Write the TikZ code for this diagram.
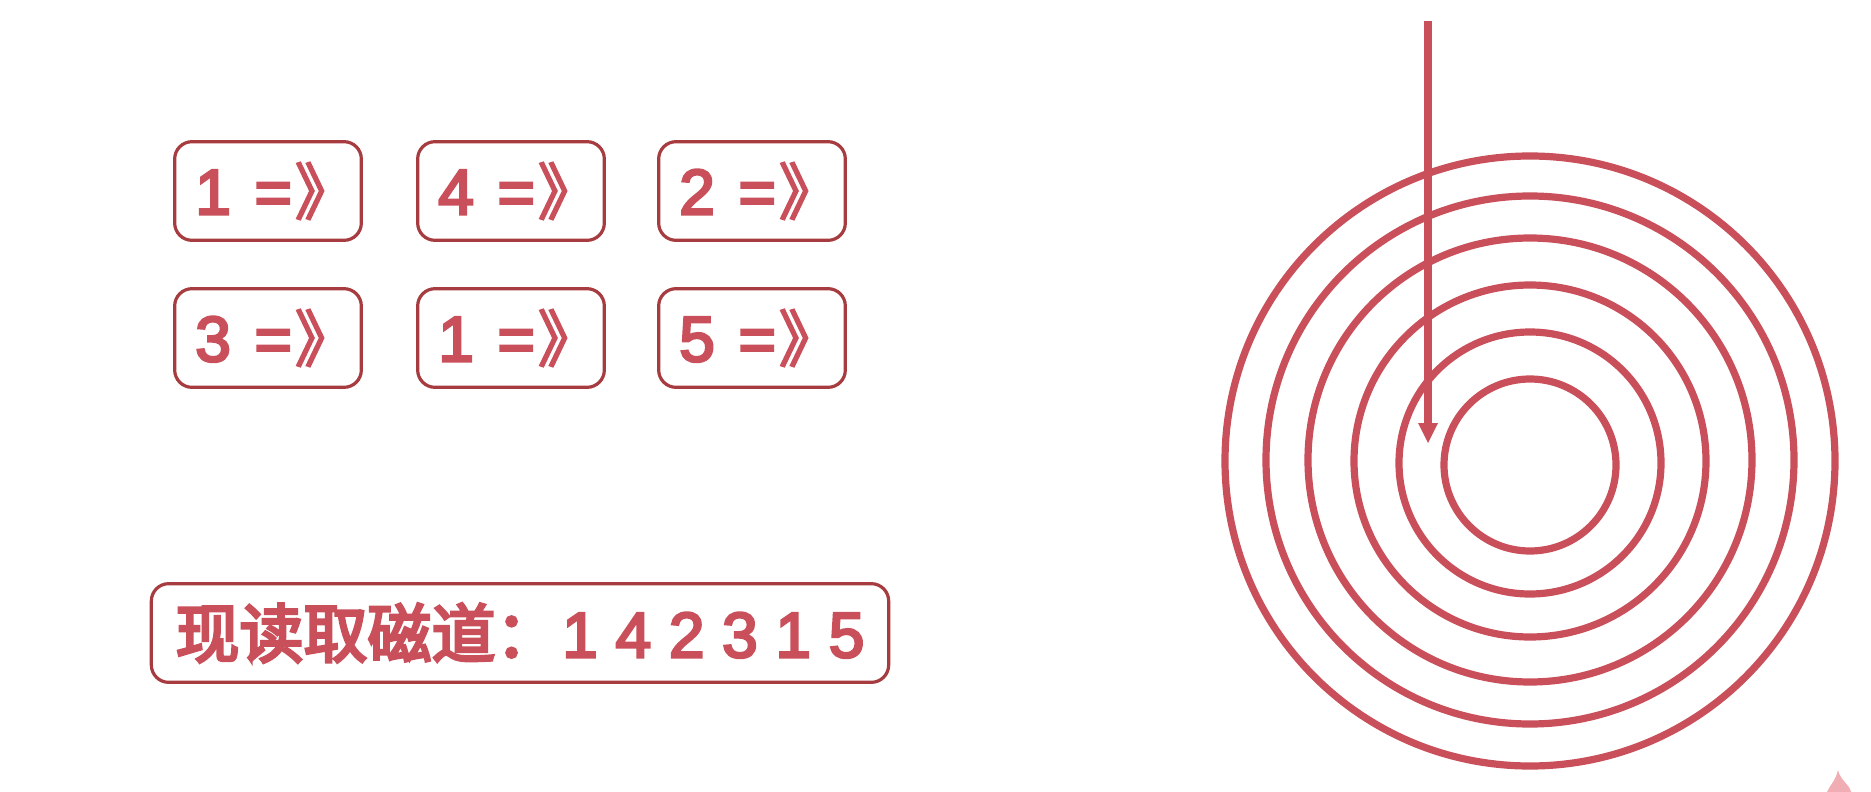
\documentclass[tikz,border=0pt]{standalone}
\usepackage{fontspec}
\setmainfont{Liberation Sans}
\newfontfamily\numf{Liberation Sans}[FakeBold=4]
\newfontfamily\cjk{Noto Sans CJK SC}[FakeBold=3]
\newfontfamily\cjkb{Noto Sans CJK SC}[FakeBold=4.5]
\definecolor{ink}{HTML}{C9505A}
\definecolor{edge}{HTML}{A63C3F}
\definecolor{wm}{HTML}{F0AEB4}
\tikzset{
  ring/.style={draw=ink,line width=5.4pt,fill=none},
  tagbox/.style={draw=edge,line width=2.4pt,rounded corners=13pt,minimum width=140pt,minimum height=74pt,text=ink,font=\numf\fontsize{48}{48}\selectfont,inner sep=0pt},
  sumbox/.style={draw=edge,line width=2.4pt,rounded corners=13pt,minimum width=553pt,minimum height=74pt,text=ink,font=\numf\fontsize{48}{48}\selectfont,inner sep=0pt},
  pointer/.style={draw=ink,line width=5.5pt},
}
\newcommand{\tagtext}[1]{#1\kern4.5pt{} =\kern2pt{\cjk\fontsize{46}{46}\selectfont 》}\kern-11.5pt}
\begin{document}
\begin{tikzpicture}[x=0.75pt,y=-0.75pt]
\useasboundingbox (0,0) rectangle (1871,792);
\node[tagbox] (a1) at (268,191) {\tagtext{1}};
\node[tagbox] (a2) at (511,191) {\tagtext{4}};
\node[tagbox] (a3) at (752,191) {\tagtext{2}};
\node[tagbox] (b1) at (268,338) {\tagtext{3}};
\node[tagbox] (b2) at (511,338) {\tagtext{1}};
\node[tagbox] (b3) at (752,338) {\tagtext{5}};
\node[sumbox] (sum) at (520,633) {{\cjkb\fontsize{48}{48}\selectfont 现读取磁道：}\kern2pt 1\kern13.3pt 4\kern13.3pt 2\kern13.3pt 3\kern13.3pt 1\kern13.3pt 5};
\draw[ring] (1530,465) circle (86);
\draw[ring] (1530,463) circle (131);
\draw[ring] (1530,461) circle (176);
\draw[ring] (1530,460) circle (222);
\draw[ring] (1530,460) circle (264);
\draw[ring] (1530,461) circle (305);
\coordinate (start) at (1428,21);
\coordinate (tip) at (1428,443);
\coordinate (neck) at (1428,424);
\draw[pointer] (start) -- (neck);
\fill[ink] (tip) -- (1418,423) -- (1438,423) -- cycle;
\fill[wm] (1838,770) .. controls (1840,780) and (1850,785) .. (1851,792) -- (1827,792) .. controls (1830,785) and (1836,780) .. (1838,770) -- cycle;
\end{tikzpicture}
\end{document}
